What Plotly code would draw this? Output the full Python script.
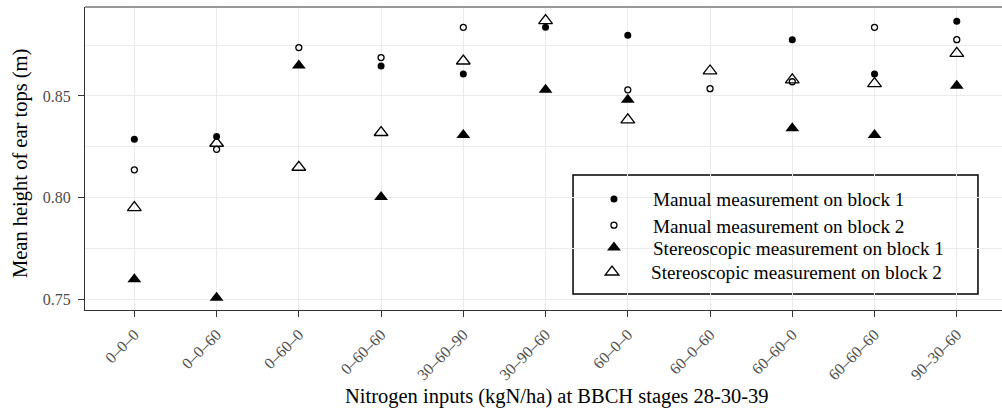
import plotly.graph_objects as go

categories = ["0–0–0", "0–0–60", "0–60–0", "0–60–60", "30–60–90", "30–90–60",
              "60–0–0", "60–0–60", "60–60–0", "60–60–60", "90–30–60"]
manual_block1 = [0.8287, 0.8300, None, 0.8648, 0.8608, 0.8838, 0.8799, None, 0.8777, 0.8608, 0.8868]
manual_block2 = [0.8136, 0.8237, 0.8738, 0.8689, 0.8838, None, 0.8530, 0.8536, 0.8570, 0.8838, 0.8777]
stereo_block1 = [0.7598, 0.7506, 0.8650, 0.8003, 0.8308, 0.8530, 0.8481, None, 0.8341, 0.8308, 0.8550]
stereo_block2 = [0.7950, 0.8267, 0.8149, 0.8320, 0.8672, 0.8871, 0.8382, 0.8623, 0.8579, 0.8561, 0.8710]

series_names = ["Manual measurement on block 1", "Manual measurement on block 2",
                "Stereoscopic measurement on block 1", "Stereoscopic measurement on block 2"]

FONT = "Liberation Serif, Times New Roman, serif"
axis_col = "#333333"
grid_col = "#EBEBEB"

fig = go.Figure()
fig.add_trace(go.Scatter(x=categories, y=manual_block1, mode="markers",
                         name=series_names[0], legend="legend",
                         marker=dict(symbol="circle", size=7, color="black")))
fig.add_trace(go.Scatter(x=categories, y=manual_block2, mode="markers",
                         name=series_names[1], legend="legend2",
                         marker=dict(symbol="circle-open", size=6, color="black",
                                     line=dict(width=1.3, color="black"))))
fig.add_trace(go.Scatter(x=categories, y=stereo_block1, mode="markers",
                         name=series_names[2], legend="legend3",
                         marker=dict(symbol="triangle-up", size=12, color="black")))
fig.add_trace(go.Scatter(x=categories, y=stereo_block2, mode="markers",
                         name=series_names[3], legend="legend4",
                         marker=dict(symbol="triangle-up-open", size=12, color="black",
                                     line=dict(width=1.3, color="black"))))


def leg(y, x=0.5343):
    return dict(x=x, y=y, xanchor="left", yanchor="middle", itemwidth=68,
                bgcolor="rgba(0,0,0,0)", borderwidth=0,
                font=dict(family=FONT, size=19.2, color="black"))


fig.update_layout(
    width=1002, height=409,
    margin=dict(l=85, r=0, t=7, b=99),
    paper_bgcolor="white", plot_bgcolor="white",
    font=dict(family=FONT, color="black"),
    showlegend=True,
    legend=leg(0.3663),
    legend2=leg(0.2800),
    legend3=leg(0.2063),
    legend4=leg(0.1254, 0.5322),
    xaxis=dict(type="category", categoryorder="array", categoryarray=categories,
               range=[-0.6, 10.55],
               showgrid=True, gridcolor=grid_col, gridwidth=1.1,
               showline=True, linecolor=axis_col, linewidth=1.2, mirror=False,
               ticks="outside", ticklen=6, tickwidth=1.3, tickcolor=axis_col,
               ticklabelstandoff=2,
               tickangle=-45,
               tickfont=dict(family=FONT, size=16, color="#4D4D4D"),
               zeroline=False),
    yaxis=dict(range=[0.7446, 0.8938], tick0=0.75, dtick=0.05, tickformat=".2f",
               showgrid=True, gridcolor=grid_col, gridwidth=1.1,
               minor=dict(dtick=0.025, tick0=0.75, showgrid=True, gridcolor=grid_col,
                          gridwidth=0.6, ticks=""),
               showline=True, linecolor=axis_col, linewidth=1.2, mirror=False,
               ticks="outside", ticklen=6, tickwidth=1.3, tickcolor=axis_col,
               ticklabelstandoff=4,
               tickfont=dict(family=FONT, size=16, color="#4D4D4D"),
               zeroline=False),
    annotations=[
        dict(text="Nitrogen inputs (kgN/ha) at BBCH stages 28-30-39",
             xref="paper", yref="paper", x=0.5147, y=-0.2871,
             xanchor="center", yanchor="middle", showarrow=False,
             font=dict(family=FONT, size=20.5, color="black")),
        dict(text="Mean height of ear tops (m)",
             xref="paper", yref="paper", x=-0.0709, y=0.485, textangle=-90,
             xanchor="center", yanchor="middle", showarrow=False,
             font=dict(family=FONT, size=20.5, color="black")),
    ],
    shapes=[
        dict(type="line", xref="paper", yref="paper", x0=0, x1=1, y0=1, y1=1,
             line=dict(color=axis_col, width=1.2)),
        dict(type="rect", xref="paper", yref="paper", x0=0.5322, x1=0.9738,
             y0=0.0528, y1=0.4455, line=dict(color="black", width=1.5),
             fillcolor="white", layer="below"),
    ],
)

fig.write_html("out.html")
